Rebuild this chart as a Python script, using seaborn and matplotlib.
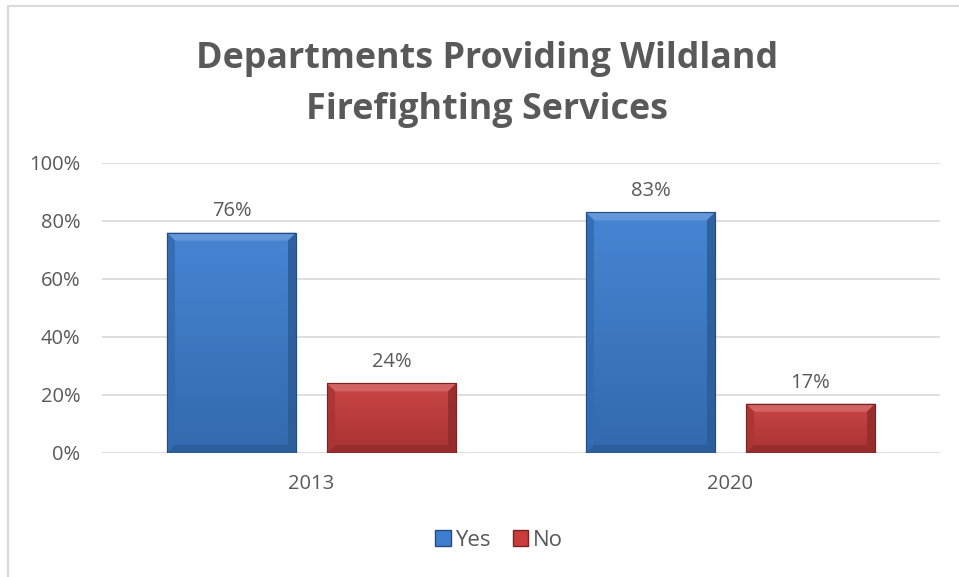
import numpy as np
import pandas as pd
import matplotlib
matplotlib.use("Agg")
import matplotlib.pyplot as plt
from matplotlib.lines import Line2D
from matplotlib.patches import Polygon, Patch
import matplotlib.colors as mcolors
import seaborn as sns

# Chart data
years = ["2013", "2020"]
answers = ["Yes", "No"]
yes_share = [0.76, 0.83]
no_share = [0.24, 0.17]
title = "Departments Providing Wildland\nFirefighting Services"

blue = "#3d7ed0"
red = "#c83c3c"
text_color = "#595959"
grid_color = "#d9d9d9"

df = pd.DataFrame({
    "year": years * 2,
    "answer": [answers[0]] * len(years) + [answers[1]] * len(years),
    "share": yes_share + no_share,
})

sns.set_theme(style="white")
plt.rcParams["font.family"] = ["Open Sans", "DejaVu Sans"]

W, H = 959, 577
fig = plt.figure(figsize=(W / 100, H / 100), dpi=100)
ax = fig.add_axes([102 / W, 1 - 453 / H, (940 - 102) / W, (453 - 163) / H])

sns.barplot(data=df, x="year", y="share", hue="answer", hue_order=answers,
            palette=[blue, red], width=0.764, gap=0.194, ax=ax,
            legend=False, errorbar=None, saturation=1)

ax.set_xlim(-0.5, 1.5)
ax.set_ylim(0, 1)
yt = np.arange(0, 1.01, 0.2)
ax.set_yticks(yt)
ax.set_yticklabels([f"{int(round(v * 100))}%" for v in yt])
ax.yaxis.grid(True, color=grid_color, linewidth=1.2)
ax.set_axisbelow(True)
for s in ax.spines.values():
    s.set_visible(False)
ax.tick_params(axis="y", length=0, pad=15.5, labelsize=14.5, labelcolor=text_color)
ax.tick_params(axis="x", length=0, pad=15, labelsize=14.5, labelcolor=text_color)
ax.set_xlabel("")
ax.set_ylabel("")

# Bevelled, shaded bar faces
px_x = (940 - 102) / 2.0
px_y = (453 - 163) / 1.0
bev_x = 8 / px_x
bev_y = 8 / px_y


def shade(c, f):
    r, g, b = mcolors.to_rgb(c)
    if f >= 1:
        return (r + (1 - r) * (f - 1), g + (1 - g) * (f - 1), b + (1 - b) * (f - 1))
    return (r * f, g * f, b * f)


for container, base in zip(ax.containers, [blue, red]):
    for bar in container:
        x0, y0 = bar.get_x(), bar.get_y()
        w, h = bar.get_width(), bar.get_height()
        x1, y1 = x0 + w, y0 + h
        bar.set_edgecolor(shade(base, 0.6))
        bar.set_linewidth(0.8)
        grad = np.linspace(0, 1, 64).reshape(-1, 1)
        cmap = mcolors.LinearSegmentedColormap.from_list(
            "g", [shade(base, 0.84), shade(base, 1.05)])
        im = ax.imshow(grad, extent=(x0, x1, y0, y1), aspect="auto",
                       cmap=cmap, origin="lower", zorder=2.1)
        im.set_clip_path(bar)
        faces = [
            ([(x0, y1), (x1, y1), (x1 - bev_x, y1 - bev_y), (x0 + bev_x, y1 - bev_y)], 1.22),
            ([(x0, y0), (x1, y0), (x1 - bev_x, y0 + bev_y), (x0 + bev_x, y0 + bev_y)], 0.74),
            ([(x0, y0), (x0, y1), (x0 + bev_x, y1 - bev_y), (x0 + bev_x, y0 + bev_y)], 0.86),
            ([(x1, y0), (x1, y1), (x1 - bev_x, y1 - bev_y), (x1 - bev_x, y0 + bev_y)], 0.74),
        ]
        for pts, f in faces:
            ax.add_patch(Polygon(pts, closed=True, facecolor=shade(base, f),
                                 edgecolor="none", zorder=2.2, alpha=0.9))
        ax.add_patch(Polygon([(x0, y0), (x1, y0), (x1, y1), (x0, y1)], closed=True,
                             facecolor="none", edgecolor=shade(base, 0.6),
                             linewidth=0.8, zorder=2.3))
        ax.annotate(f"{int(round(h * 100))}%", (x0 + w / 2, y1),
                    xytext=(0, 8), textcoords="offset points",
                    ha="center", va="bottom", fontsize=14.5, color=text_color)

fig.suptitle(title, x=487 / W, y=1 - 41 / H, fontsize=25.8,
             fontweight="bold", color=text_color, va="top", linespacing=1.55)

handles = [Patch(facecolor=blue, edgecolor=shade(blue, 0.6)),
           Patch(facecolor=red, edgecolor=shade(red, 0.6))]
fig.legend(handles, answers, loc="center", bbox_to_anchor=(499 / W, 1 - 540 / H),
           ncol=2, frameon=False, fontsize=16, labelcolor=text_color,
           handlelength=0.7, handleheight=0.7, handletextpad=0.2, columnspacing=1.0)

# Chart area frame (left and top edges)
fig.add_artist(Line2D([8 / W, 8 / W], [0, 1 - 6 / H], color=grid_color, linewidth=1.5))
fig.add_artist(Line2D([8 / W, 1], [1 - 6 / H, 1 - 6 / H], color=grid_color, linewidth=1.5))

fig.savefig("out.png", dpi=100, facecolor="white")
